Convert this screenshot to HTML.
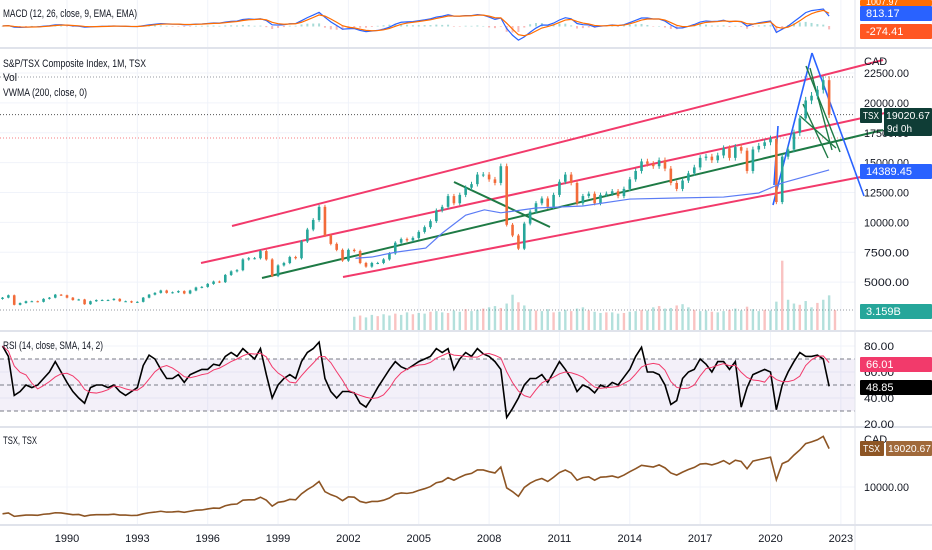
<!DOCTYPE html>
<html><head><meta charset="utf-8"><style>
body{margin:0;background:#fff;font-family:"Liberation Sans",sans-serif;}
svg{display:block}
text{font-family:"Liberation Sans",sans-serif;}
</style></head><body>
<svg id="c" width="932" height="550" viewBox="0 0 932 550" xmlns="http://www.w3.org/2000/svg">
<rect x="0" y="0" width="932" height="550" fill="#fff"/>
<g id="grid"></g>
<g id="drawings"></g>
<g id="marks"></g>
<g id="labels"></g>
</svg>
<script>
const startT = 1987.25;
const prices = [3700,3900,3100,
3250,3400,3400,3350, 3600,3700,3950,3900, 3700,3500,3550,3150, 3400,3500,3500,3500,
3600,3400,3400,3300, 3350,3700,3950,4100, 4300,4100,4150,4250, 4050,4300,4550,4600,
4850,5050,5000,5600, 5900,6000,6900,7000, 7000,7600,6900,5500, 6400,6600,7100,7000,
8400,9400,10200,11300, 8900,8200,7700,6800, 7700,7600,6600,6300, 6600,6600,6900,7400,
8300,8600,8500,8700, 9200,9600,10100,11000, 11300,12200,11600,12300, 12900,13200,14000,14000,
13600,13300,14700,9800, 8900,7800,9900,10900, 11600,12000,11300,12300, 13400,14000,13300,11600,
12200,12400,11600,12300, 12400,12600,12200,12800, 13600,14300,15100,14900, 14700,15200,14500,13300,
12800,13500,14100,14600, 15400,15500,15200,15600, 16200,15400,16300,16000, 14300,16100,16400,16700,
17000,11700,15500,16100, 17500,18700,20200,20600, 21100,21900,19020];
const rsi = [80,72,42,
45,50,48,50, 55,60,68,60, 52,45,40,36, 48,50,50,48,
50,45,42,45, 48,65,73,70, 62,55,55,58, 52,58,60,62,
62,66,65,72, 75,72,78,74, 70,78,58,40, 50,55,58,55,
68,75,78,83, 55,45,40,45, 45,44,36,33, 40,48,55,62,
68,64,62,65, 68,70,72,78, 75,78,62,70, 75,72,78,74,
72,68,62,25, 32,40,50,55, 55,58,52,60, 68,62,55,45,
50,48,44,50, 48,52,50,56, 62,72,79,60, 60,58,50,35,
38,55,60,62, 70,66,60,68, 68,62,68,33, 48,58,60,62,
60,31,50,60, 68,75,72,72, 73,70,49];
const vwmaYears = [2002.3,2003,2004,2005.3,2006,2007,2007.8,2008.5,2010,2012,2014,2016,2018,2019.5,2020.5,2022.5];
const vwmaVals  = [7000,7100,7500,7850,9100,10600,11050,10800,11200,11370,11950,12040,12120,12460,13300,14390];
const volStart = 2002.25;
const volumes = [2.1,2.3,2.0,2.4, 2.2,2.5,2.3,2.6, 2.4,2.8,2.5,2.7, 2.6,2.9,3.0,2.8, 2.7,3.1,2.9,3.3, 3.0,3.2,3.4,3.6,
3.8,3.5,4.2,5.6, 4.4,3.9,3.3,3.1, 3.0,3.3,2.8,2.9, 3.2,3.0,3.4,3.6, 3.1,2.9,2.7,2.8, 2.8,2.6,2.7,2.9,
3.0,3.2,3.1,3.6, 3.8,3.4,3.5,3.9, 4.1,3.6,3.2,3.0, 3.1,2.9,2.8,3.0, 3.2,3.4,3.1,3.7, 3.3,3.0,3.2,3.1,
4.5,11.0,4.8,4.2, 4.0,4.6,3.6,4.3, 4.8,5.5,3.16];
const yearTicks = [1990,1993,1996,1999,2002,2005,2008,2011,2014,2017,2020,2023];
const priceTicks = [22500,20000,17500,15000,12500,10000,7500,5000];
const rsiTicks = [80,60,40,20];

const NS="http://www.w3.org/2000/svg";
const svg=document.getElementById('c');
const G=id=>document.getElementById(id);
function el(tag,attrs,parent,txt){const e=document.createElementNS(NS,tag);for(const k in attrs)e.setAttribute(k,attrs[k]);if(txt!==undefined)e.textContent=txt;(parent||svg).appendChild(e);return e;}
const X=t=>67+(t-1990)*23.45;
const Y=v=>73+(22500-v)*0.01195;
const YR=v=>346+(80-v)*1.3;
const YT=v=>487-(v-10000)/235;
const tOf=i=>startT+i*0.25;
const PW=855;

const grid=G('grid');
yearTicks.forEach(y=>{const l=el('line',{x1:X(y),x2:X(y),y1:0,y2:525,stroke:'#f0f3fa','stroke-width':1},grid);

});
priceTicks.forEach(p=>{const l=el('line',{x1:0,x2:PW,y1:Y(p),y2:Y(p),stroke:'#f0f3fa'},grid);

});
[80,60,40].forEach(v=>el('line',{x1:0,x2:PW,y1:YR(v),y2:YR(v),stroke:'#f0f3fa'},grid));
el('rect',{x:0,y:YR(70),width:PW,height:YR(30)-YR(70),fill:'rgba(126,87,194,0.09)'},grid);
[70,50,30].forEach(v=>el('line',{x1:0,x2:PW,y1:YR(v),y2:YR(v),stroke:'#787b86','stroke-dasharray':'4 3','stroke-width':1},grid));
el('line',{x1:0,x2:PW,y1:YT(10000),y2:YT(10000),stroke:'#f0f3fa'},grid);
[48,331,427,525].forEach(y=>el('line',{x1:0,x2:932,y1:y,y2:y,stroke:'#e0e3eb','stroke-width':2},grid));
el('line',{x1:PW,x2:PW,y1:0,y2:550,stroke:'#e0e3eb'},grid);
el('line',{x1:0,x2:PW,y1:77,y2:77,stroke:'#9598a1','stroke-dasharray':'1 2'},grid);
el('line',{x1:0,x2:PW,y1:Y(19020),y2:Y(19020),stroke:'#555','stroke-dasharray':'1 2'},grid);
el('line',{x1:0,x2:PW,y1:138,y2:138,stroke:'#f77c80','stroke-dasharray':'1 2'},grid);
el('line',{x1:0,x2:PW,y1:310,y2:310,stroke:'#9598a1','stroke-dasharray':'1 2'},grid);

const marks=G('marks');
volumes.forEach((v,i)=>{const t=volStart+i*0.25;const h=v*6.3;
const r=el('rect',{x:X(t)-1.2,y:330-h,width:2.4,height:h,fill:(i%3==1)?'rgba(239,83,80,0.35)':'rgba(38,166,154,0.35)'},marks);

});
prices.forEach((c,i)=>{const o=i?prices[i-1]:c*0.97;const up=c>=o;const col=up?'#26a69a':'#f26b3a';const x=X(tOf(i));
const hi=Math.max(o,c)*1.015,lo=Math.min(o,c)*0.985;
el('line',{x1:x,x2:x,y1:Y(hi),y2:Y(lo),stroke:col,'stroke-width':1},marks);
const r=el('rect',{x:x-1.3,y:Y(Math.max(o,c)),width:2.6,height:Math.max(1,Math.abs(Y(o)-Y(c))),fill:col},marks);

});
const vw=el('polyline',{points:vwmaYears.map((t,i)=>X(t)+','+Y(vwmaVals[i])).join(' '),fill:'none',stroke:'#5b7cf5','stroke-width':1.2},marks);


const rl=el('polyline',{points:rsi.map((v,i)=>X(tOf(i))+','+YR(v)).join(' '),fill:'none',stroke:'#000','stroke-width':1.6},marks);


const sma=rsi.map((v,i)=>{const s=rsi.slice(Math.max(0,i-4),i+1);return s.reduce((a,b)=>a+b,0)/s.length;});
const sl=el('polyline',{points:sma.map((v,i)=>X(tOf(i))+','+YR(v)).join(' '),fill:'none',stroke:'#f23a6b','stroke-width':1},marks);


const tl=el('polyline',{points:prices.map((v,i)=>X(tOf(i))+','+YT(v)).join(' '),fill:'none',stroke:'#8d5524','stroke-width':1.6},marks);


function ema(a,n){const k=2/(n+1);let e=a[0];return a.map(v=>e=v*k+e*(1-k));}
const e1=ema(prices,4),e2=ema(prices,9);const macd=e1.map((v,i)=>v-e2[i]);const sig=ema(macd,3);
const mx=Math.max(...macd.map(Math.abs));const YM=v=>26-v*17/mx;
macd.forEach((v,i)=>{const h=(v-sig[i]);const x=X(tOf(i));
const r=el('rect',{x:x-1,y:Math.min(YM(0),YM(0)-h*17/mx),width:2,height:Math.abs(h*17/mx)+0.5,fill:h>=0?'rgba(38,166,154,0.4)':'rgba(239,83,80,0.4)'},marks);

});
const ml=el('polyline',{points:macd.map((v,i)=>X(tOf(i))+','+YM(v)).join(' '),fill:'none',stroke:'#2962ff','stroke-width':1.2},marks);


const sg=el('polyline',{points:sig.map((v,i)=>X(tOf(i))+','+YM(v)).join(' '),fill:'none',stroke:'#ff6d00','stroke-width':1.2},marks);



const dr=G('drawings');
function ln(a,b,c,d,col,w,name){const l=el('line',{x1:a,y1:b,x2:c,y2:d,stroke:col,'stroke-width':w},dr);}
ln(232,226,883,60,'#f23a6b',2,'channel-upper-line');
ln(201,263,885,113,'#f23a6b',2,'channel-middle-line');
ln(343,277,866,176,'#f23a6b',2,'channel-lower-line');
ln(262,278,883,130,'#1e7a45',2,'green-trendline');
ln(454,182,550,227,'#1e7a45',2,'green-cross-line');
ln(773,205,812,53,'#2962ff',1.6,'blue-up-line');
ln(812,53,864,196,'#2962ff',1.6,'blue-down-line');
ln(774,185,778,126,'#2962ff',1.6,'blue-short-line');
ln(806,66,840,152,'#1e7a45',1.4,'green-fan-1');
ln(810,68,832,150,'#1e7a45',1.4,'green-fan-2');
ln(800,116,836,148,'#1e7a45',1.4,'green-fan-3');
ln(803,104,828,158,'#1e7a45',1.4,'green-fan-4');

const lb=G('labels');
function tx(x,y,s,size,col,name,anchor,len){const a={x:x,y:y,'font-size':size,fill:col,'text-anchor':anchor||'start'};if(len){a.textLength=len;a.lengthAdjust='spacingAndGlyphs';}
const t=el('text',a,lb,s);return t;}
function box(x,y,w,h,fill,name){const r=el('rect',{x:x,y:y,width:w,height:h,fill:fill,rx:1},lb);}
tx(3,17,'MACD (12, 26, close, 9, EMA, EMA)',11,'#131722','macd-legend','start',134);
tx(3,67,'S&P/TSX Composite Index, 1M, TSX',11,'#131722','main-legend-title','start',143);
tx(3,81,'Vol',11,'#131722','vol-legend','start',14);
tx(3,96,'VWMA (200, close, 0)',11,'#131722','vwma-legend','start',84);
tx(3,349,'RSI (14, close, SMA, 14, 2)',11,'#131722','rsi-legend','start',100);
tx(3,444,'TSX, TSX',11,'#131722','compare-legend','start',34);
yearTicks.forEach(y=>tx(X(y),542,String(y),11,'#131722','x-tick-label','middle'));
priceTicks.forEach(p=>tx(864,Y(p)+4,p.toFixed(2),11,'#131722','y-tick-label','start',45));
tx(864,65,'CAD',11,'#131722','currency-label');
rsiTicks.forEach(v=>tx(864,YR(v)+4,v.toFixed(2),11,'#131722','rsi-tick-label','start',30));
tx(864,443,'CAD',11,'#131722','compare-currency');
tx(864,YT(10000)+4,'10000.00',11,'#131722','compare-tick-label','start',45);
box(860,0,72,6,'#ff6d00','macd-top-badge');tx(866,5,'1007.97',9,'#fff','macd-top-value');
box(860,6,72,15,'#2962ff','macd-badge');tx(866,17,'813.17',11,'#fff','macd-value');
box(860,24,72,15,'#ff5722','hist-badge');tx(866,35,'-274.41',11,'#fff','hist-value');
box(860,108,22,15,'#0f3d36','tsx-badge');tx(863,119,'TSX',10,'#fff','tsx-badge-text','start',16);
box(884,108,48,28,'#0f3d36','price-badge');tx(886,119,'19020.67',10,'#fff','price-value','start',44);tx(887,132,'9d 0h',10,'#fff','countdown');
box(860,164,72,15,'#2962ff','vwma-badge');tx(866,175,'14389.45',11,'#fff','vwma-value','start',46);
box(860,304,72,15,'#26a69a','vol-badge');tx(866,315,'3.159B',11,'#fff','vol-value');
box(860,357,72,15,'#f23a6b','rsi-sma-badge');tx(866,368,'66.01',11,'#fff','rsi-sma-value');
box(860,380,72,15,'#000','rsi-badge');tx(866,391,'48.85',11,'#fff','rsi-value');
box(860,441,24,15,'#8d5524','compare-tsx-badge');tx(863,452,'TSX',10,'#fff','compare-badge-text','start',17);
box(886,441,46,15,'#a0693a','compare-price-badge');tx(888,452,'19020.67',10,'#fff','compare-price','start',43);
</script>
</body></html>
